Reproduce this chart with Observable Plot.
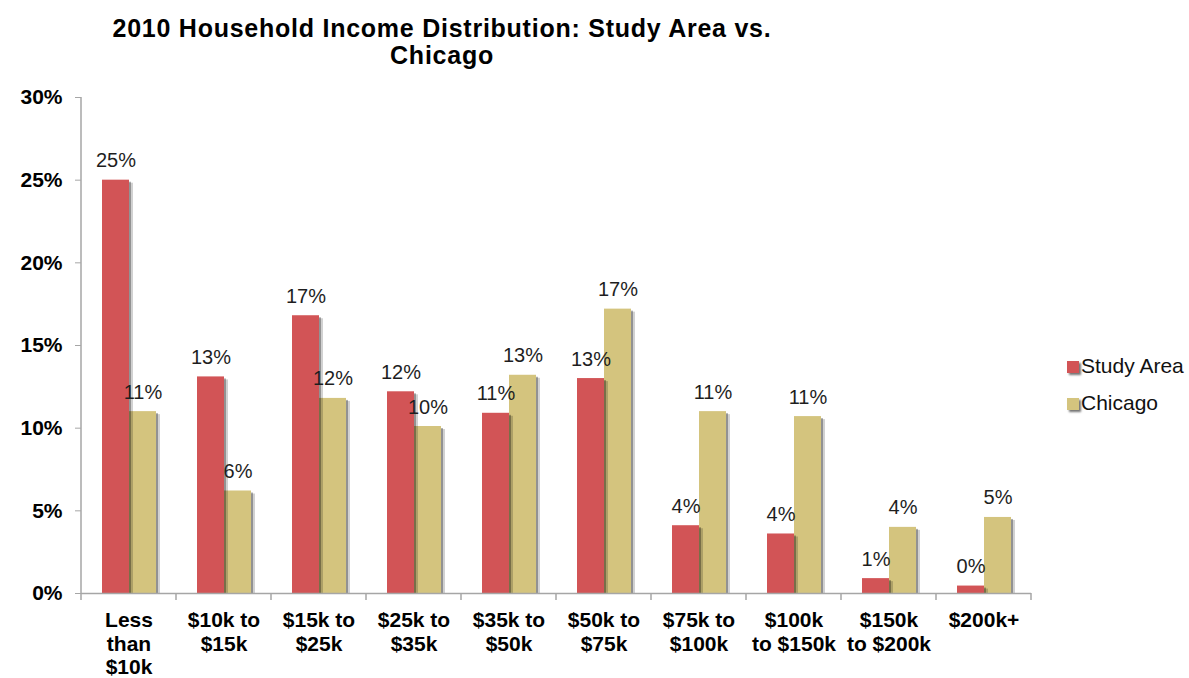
<!DOCTYPE html>
<html>
<head>
<meta charset="utf-8">
<script src="https://cdn.jsdelivr.net/npm/d3@7"></script>
<script src="https://cdn.jsdelivr.net/npm/@observablehq/plot@0.6"></script>
<style>
  body { margin: 0; background: #fff; font-family: "Liberation Sans", Arial, sans-serif; }
  #wrap { position: relative; width: 1189px; height: 678px; overflow: hidden; }
  #title { position: absolute; left: 0; top: 15px; width: 884px; text-align: center;
           font-weight: bold; font-size: 25px; line-height: 27px; letter-spacing: 0.75px; color: #000; }
  #chart { position: absolute; left: 0; top: 80px; }
  .lg { position: absolute; left: 1067px; height: 21px; font-size: 21px; line-height: 21px; color: #111; white-space: nowrap; }
  .lg .sw { position: absolute; left: 0; top: 6px; width: 12px; height: 12px; box-shadow: 2px 2px 2px rgba(0,0,0,0.55); }
  .lg .tx { position: absolute; left: 14px; top: 0; }
</style>
</head>
<body>
<div id="wrap">
  <div id="title">2010 Household Income Distribution: Study Area vs.<br>Chicago</div>
  <div id="chart"></div>
  <div id="legend"></div>
</div>
<script>
const categories = ["Less than $10k", "$10k to $15k", "$15k to $25k", "$25k to $35k", "$35k to $50k",
                    "$50k to $75k", "$75k to $100k", "$100k to $150k", "$150k to $200k", "$200k+"];
const categoryLabels = ["Less\nthan\n$10k", "$10k to\n$15k", "$15k to\n$25k", "$25k to\n$35k", "$35k to\n$50k",
                        "$50k to\n$75k", "$75k to\n$100k", "$100k\nto $150k", "$150k\nto $200k", "$200k+"];
const series = ["Study Area", "Chicago"];
const studyArea = [25.0, 13.1, 16.8, 12.2, 10.9, 13.0, 4.1, 3.6, 0.9, 0.45];
const chicago   = [11.0, 6.2, 11.8, 10.1, 13.2, 17.2, 11.0, 10.7, 4.0, 4.6];
const colors = ["#d25456", "#d4c47e"];
const yTicks = [0, 5, 10, 15, 20, 25, 30];

const rows = categories.flatMap((c, i) => [
  {cat: c, series: series[0], value: studyArea[i]},
  {cat: c, series: series[1], value: chicago[i]}
]);
const saRows = rows.filter(d => d.series === series[0]);
const chRows = rows.filter(d => d.series === series[1]);
const labelOf = Object.fromEntries(categories.map((c, i) => [c, categoryLabels[i]]));
const axisColor = "#a6a6a6";

function shadows(data) {
  return [
    Plot.barY(data, {fx: "cat", x: "series", y: "value", fill: "#000", fillOpacity: 0.18, dx: 4, dy: 3, insetBottom: 3}),
    Plot.barY(data, {fx: "cat", x: "series", y: "value", fill: "#000", fillOpacity: 0.3, dx: 2, dy: 2, insetBottom: 2})
  ];
}

const chart = Plot.plot({
  width: 1050,
  height: 598,
  marginLeft: 79,
  marginRight: 17,
  marginTop: 17,
  marginBottom: 85,
  style: {fontFamily: "'Liberation Sans', Arial, sans-serif", fontSize: "21px", background: "transparent", overflow: "visible"},
  fx: {domain: categories, padding: 0, axis: null, label: null},
  x: {domain: series, paddingInner: 0, paddingOuter: 0.7036, axis: null, label: null},
  y: {domain: [0, 30], axis: null, label: null},
  color: {domain: series, range: colors},
  marks: [
    ...shadows(chRows),
    Plot.barY(chRows, {fx: "cat", x: "series", y: "value", fill: "series"}),
    ...shadows(saRows),
    Plot.barY(saRows, {fx: "cat", x: "series", y: "value", fill: "series"}),
    Plot.ruleY([0], {stroke: axisColor, strokeWidth: 1.5}),
    Plot.axisY({ticks: yTicks, tickFormat: d => d + "%", tickSize: 6, tickPadding: 13,
                fontSize: 21, fontWeight: "bold", stroke: axisColor, fill: "#000", label: null}),
    Plot.text(rows, {fx: "cat", x: "series", y: "value", text: d => Math.round(d.value) + "%",
                     lineAnchor: "bottom", dy: -13, fontSize: 20, fill: "#1e1e1e"}),
    Plot.text(categories, {fx: d => d, text: d => labelOf[d], frameAnchor: "bottom", lineAnchor: "top",
                           dy: 17, fontSize: 21, fontWeight: "bold", lineHeight: 1.12, fill: "#000"})
  ]
});

// y-axis line and category separator ticks, placed with the plot's own scales
const fxS = chart.scale("fx"), yS = chart.scale("y");
const y0 = yS.apply(0), yTop = yS.apply(30);
const left = fxS.apply(categories[0]);
const edges = categories.map(c => fxS.apply(c)).concat(fxS.apply(categories[categories.length - 1]) + fxS.bandwidth);
const g = d3.select(chart).append("g").attr("stroke", axisColor).attr("stroke-width", 1.5);
g.append("line").attr("x1", left).attr("x2", left).attr("y1", yTop).attr("y2", y0);
g.selectAll("line.e").data(edges).join("line").attr("class", "e")
  .attr("x1", d => d).attr("x2", d => d).attr("y1", y0).attr("y2", y0 + 7);

document.getElementById("chart").appendChild(chart);

// legend
const legend = document.getElementById("legend");
const legendTops = [355, 392];
series.forEach((s, i) => {
  const row = document.createElement("div");
  row.className = "lg";
  row.style.top = legendTops[i] + "px";
  row.innerHTML = `<span class="sw" style="background:${colors[i]}"></span><span class="tx">${s}</span>`;
  legend.appendChild(row);
});
</script>
</body>
</html>
